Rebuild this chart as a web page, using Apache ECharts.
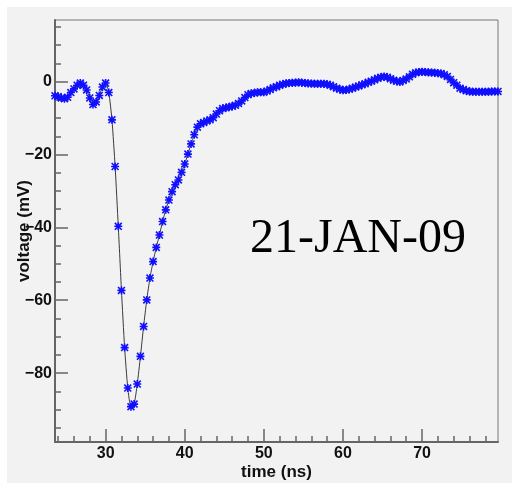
<!DOCTYPE html>
<html>
<head>
<meta charset="utf-8">
<script src="https://cdn.jsdelivr.net/npm/echarts@6/dist/echarts.min.js"></script>
<style>
  html, body { margin: 0; padding: 0; background: #ffffff; }
  #chart { width: 512px; height: 483px; }
</style>
</head>
<body>
<div id="chart"></div>
<script>
// Sample times of the digitised pulse (ns)
const timeNs = [
  23.6, 24.0, 24.4, 24.8, 25.2, 25.6, 26.0, 26.4, 26.8, 27.2,
  27.6, 28.0, 28.4, 28.8, 29.2, 29.6, 30.0, 30.4, 30.8, 31.2,
  31.6, 32.0, 32.4, 32.8, 33.2, 33.6, 34.0, 34.4, 34.8, 35.2,
  35.6, 36.0, 36.4, 36.8, 37.2, 37.6, 38.0, 38.4, 38.8, 39.2,
  39.6, 40.0, 40.4, 40.8, 41.2, 41.6, 42.0, 42.4, 42.8, 43.2,
  43.6, 44.0, 44.4, 44.8, 45.2, 45.6, 46.0, 46.4, 46.8, 47.2,
  47.6, 48.0, 48.4, 48.8, 49.2, 49.6, 50.0, 50.4, 50.8, 51.2,
  51.6, 52.0, 52.4, 52.8, 53.2, 53.6, 54.0, 54.4, 54.8, 55.2,
  55.6, 56.0, 56.4, 56.8, 57.2, 57.6, 58.0, 58.4, 58.8, 59.2,
  59.6, 60.0, 60.4, 60.8, 61.2, 61.6, 62.0, 62.4, 62.8, 63.2,
  63.6, 64.0, 64.4, 64.8, 65.2, 65.6, 66.0, 66.4, 66.8, 67.2,
  67.6, 68.0, 68.4, 68.8, 69.2, 69.6, 70.0, 70.4, 70.8, 71.2,
  71.6, 72.0, 72.4, 72.8, 73.2, 73.6, 74.0, 74.4, 74.8, 75.2,
  75.6, 76.0, 76.4, 76.8, 77.2, 77.6, 78.0, 78.4, 78.8, 79.2,
  79.6
];

// Measured voltage at each sample (mV)
const voltageMv = [
  -3.9, -4.1, -4.5, -4.7, -4.3, -3.0, -2.0, -1.0, -0.4, -1.0,
  -2.3, -4.5, -6.3, -5.6, -3.8, -1.5, -0.4, -3.0, -10.5, -23.3,
  -39.7, -57.3, -73.0, -84.1, -89.2, -88.5, -83.0, -75.4, -67.2, -59.9,
  -53.9, -49.4, -45.5, -42.1, -38.4, -35.2, -32.5, -30.2, -28.3, -27.0,
  -24.9, -22.6, -19.9, -17.1, -14.6, -12.5, -11.6, -11.2, -10.8, -10.5,
  -9.9, -8.9, -8.0, -7.4, -7.2, -7.0, -6.8, -6.5, -6.0, -5.3,
  -4.4, -3.6, -3.3, -3.1, -2.9, -2.9, -2.9, -2.6, -2.2, -1.7,
  -1.4, -1.0, -0.7, -0.5, -0.4, -0.3, -0.3, -0.2, -0.3, -0.4,
  -0.5, -0.5, -0.6, -0.6, -0.6, -0.6, -0.7, -1.0, -1.4, -1.8,
  -2.1, -2.4, -2.3, -2.1, -1.8, -1.5, -1.2, -0.9, -0.6, -0.2,
  0.1, 0.5, 0.9, 1.2, 1.4, 1.2, 0.8, 0.4, 0.1, -0.1,
  0.3, 0.7, 1.3, 2.0, 2.4, 2.6, 2.7, 2.6, 2.5, 2.5,
  2.4, 2.3, 2.2, 1.9, 1.4, 0.6, -0.3, -1.0, -1.8, -2.2,
  -2.5, -2.7, -2.8, -2.8, -2.8, -2.8, -2.8, -2.8, -2.7, -2.7,
  -2.7
];

// Axis ranges and tick positions
const timeRange = [23.6, 79.6];
const voltRange = [-98.9, 16.9];
const timeLabels = [30, 40, 50, 60, 70];
const timeMinorTicks = [24, 26, 28, 32, 34, 36, 38, 42, 44, 46, 48, 52, 54, 56, 58, 62, 64, 66, 68, 72, 74, 76, 78];
const voltLabels = [-80, -60, -40, -20, 0];
const voltMinorTicks = [-95, -90, -85, -75, -70, -65, -55, -50, -45, -35, -30, -25, -15, -10, -5, 5, 10, 15];

const dateStamp = '21-JAN-09';

const points = timeNs.map((t, i) => [t, voltageMv[i]]);

// eight-armed star marker (plus + cross), all arms wound the same way
const starPath = 'path://M0,4L10,4L10,6L0,6Z' +
  'M4,0L6,0L6,10L4,10Z' +
  'M0,1.4L1.4,0L10,8.6L8.6,10Z' +
  'M8.6,0L10,1.4L1.4,10L0,8.6Z';

const axisGray = '#666666';
const labelFont = {
  fontFamily: 'Liberation Sans, Arial, sans-serif',
  fontWeight: 'bold',
  fontSize: 16,
  color: '#111111'
};
const minusFmt = v => String(v).replace('-', '\u2212');

const chart = echarts.init(document.getElementById('chart'), null, { renderer: 'canvas' });

chart.setOption({
  animation: false,
  backgroundColor: '#ffffff',
  graphic: [
    {
      type: 'rect',
      z: -10,
      silent: true,
      shape: { x: 7, y: 7, width: 505, height: 476 },
      style: { fill: '#f2f2f2' }
    },
    {
      type: 'text',
      z: 100,
      left: 250,
      top: 215,
      style: {
        text: dateStamp,
        font: '48px "Liberation Serif", "Times New Roman", serif',
        fill: '#000000'
      }
    }
  ],
  grid: {
    left: 55,
    right: 14,
    top: 20,
    bottom: 41,
    outerBoundsMode: 'none',
    containLabel: false,
    show: true,
    backgroundColor: 'transparent',
    borderColor: '#777777',
    borderWidth: 1
  },
  xAxis: [
    {
      type: 'value',
      min: timeRange[0],
      max: timeRange[1],
      name: 'time (ns)',
      nameLocation: 'middle',
      nameGap: 22,
      nameMoveOverlap: false,
      nameTextStyle: Object.assign({}, labelFont, { fontSize: 17 }),
      axisLine: { show: true, onZero: false, lineStyle: { color: axisGray, width: 2 } },
      axisTick: { show: true, inside: true, length: 13, customValues: timeLabels, lineStyle: { color: axisGray, width: 1.5 } },
      axisLabel: Object.assign({ customValues: timeLabels, margin: 4, formatter: minusFmt }, labelFont),
      splitLine: { show: false }
    },
    {
      type: 'value',
      position: 'bottom',
      min: timeRange[0],
      max: timeRange[1],
      axisLine: { show: false, onZero: false },
      axisTick: { show: true, inside: true, length: 6, customValues: timeMinorTicks, lineStyle: { color: axisGray, width: 1.5 } },
      axisLabel: { show: false },
      splitLine: { show: false }
    }
  ],
  yAxis: [
    {
      type: 'value',
      min: voltRange[0],
      max: voltRange[1],
      name: 'voltage (mV)',
      nameLocation: 'middle',
      nameRotate: 90,
      nameGap: 22,
      nameMoveOverlap: false,
      nameTextStyle: Object.assign({}, labelFont, { fontSize: 17 }),
      axisLine: { show: true, onZero: false, lineStyle: { color: axisGray, width: 2 } },
      axisTick: { show: true, inside: true, length: 13, customValues: voltLabels, lineStyle: { color: axisGray, width: 1.5 } },
      axisLabel: Object.assign({ customValues: voltLabels, margin: 3, formatter: minusFmt }, labelFont),
      splitLine: { show: false }
    },
    {
      type: 'value',
      position: 'left',
      min: voltRange[0],
      max: voltRange[1],
      axisLine: { show: false, onZero: false },
      axisTick: { show: true, inside: true, length: 6, customValues: voltMinorTicks, lineStyle: { color: axisGray, width: 1.5 } },
      axisLabel: { show: false },
      splitLine: { show: false }
    }
  ],
  series: [
    {
      type: 'line',
      xAxisIndex: 0,
      yAxisIndex: 0,
      data: points,
      smooth: 0.2,
      showAllSymbol: true,
      symbol: starPath,
      symbolSize: 8,
      itemStyle: { color: '#1010ff' },
      lineStyle: { color: '#3a3a3a', width: 1 },
      z: 3
    }
  ]
});
</script>
</body>
</html>
